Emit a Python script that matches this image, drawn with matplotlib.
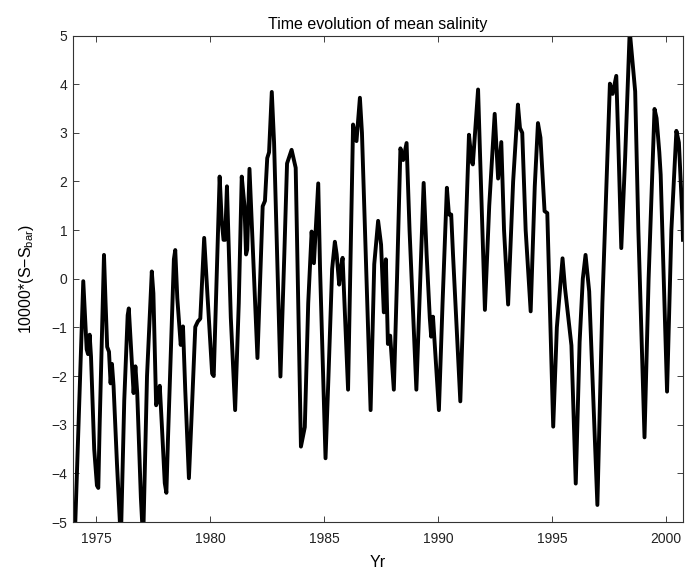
import matplotlib
matplotlib.use("Agg")
import matplotlib.pyplot as plt
import numpy as np

# time (yr) and salinity anomaly 10000*(S - S_bar)
years = [1974.00, 1974.42, 1974.50, 1974.57, 1974.63, 1974.70, 1974.76, 1974.90, 1975.02, 1975.08,
         1975.14, 1975.33, 1975.40, 1975.47, 1975.55, 1975.62, 1975.68, 1975.75, 1975.90, 1976.07,
         1976.22, 1976.37, 1976.42, 1976.48, 1976.57, 1976.63, 1976.71, 1976.79, 1976.95, 1977.05,
         1977.22, 1977.43, 1977.50, 1977.62, 1977.69, 1977.78, 1977.87, 1978.00, 1978.07, 1978.14,
         1978.40, 1978.46, 1978.55, 1978.70, 1978.80, 1978.90, 1979.06, 1979.18, 1979.34, 1979.45,
         1979.56, 1979.73, 1979.87, 1980.08, 1980.15, 1980.41, 1980.50, 1980.58, 1980.65, 1980.73,
         1980.90, 1981.09, 1981.25, 1981.38, 1981.50, 1981.57, 1981.62, 1981.72, 1981.85, 1982.07,
         1982.30, 1982.40, 1982.50, 1982.58, 1982.70, 1982.80, 1983.08, 1983.25, 1983.37, 1983.57,
         1983.75, 1983.98, 1984.15, 1984.30, 1984.45, 1984.55, 1984.74, 1984.82, 1985.06, 1985.18,
         1985.35, 1985.47, 1985.55, 1985.66, 1985.73, 1985.81, 1986.05, 1986.27, 1986.42, 1986.57,
         1986.66, 1987.04, 1987.20, 1987.37, 1987.50, 1987.62, 1987.71, 1987.80, 1987.90, 1988.06,
         1988.20, 1988.35, 1988.47, 1988.62, 1988.75, 1989.05, 1989.37, 1989.50, 1989.64, 1989.70,
         1989.78, 1990.04, 1990.20, 1990.39, 1990.48, 1990.58, 1990.66, 1990.98, 1991.15, 1991.36,
         1991.48, 1991.53, 1991.76, 1991.85, 1992.06, 1992.25, 1992.49, 1992.64, 1992.78, 1992.90,
         1993.08, 1993.30, 1993.51, 1993.60, 1993.70, 1993.85, 1994.07, 1994.25, 1994.39, 1994.50,
         1994.68, 1994.80, 1995.06, 1995.22, 1995.47, 1995.58, 1995.86, 1996.05, 1996.22, 1996.36,
         1996.48, 1996.64, 1997.00, 1997.22, 1997.55, 1997.67, 1997.83, 1997.92, 1998.05, 1998.22,
         1998.42, 1998.66, 1998.80, 1999.07, 1999.25, 1999.51, 1999.60, 1999.72, 1999.78, 2000.06,
         2000.25, 2000.47, 2000.58, 2000.69, 2000.73, 2000.76]
salinity = [-6.0, -0.05, -0.8, -1.45, -1.55, -1.15, -1.6, -3.5, -4.25, -4.3,
            -3.0, 0.49, -0.5, -1.4, -1.5, -2.15, -1.75, -2.2, -3.8, -5.4,
            -2.5, -0.75, -0.61, -1.1, -1.8, -2.35, -1.8, -2.35, -4.5, -5.4,
            -2.0, 0.15, -0.3, -2.6, -2.5, -2.2, -3.0, -4.2, -4.4, -3.3,
            0.4, 0.59, -0.4, -1.36, -0.98, -2.3, -4.1, -2.8, -0.99, -0.88,
            -0.82, 0.84, -0.3, -1.95, -2.0, 2.1, 1.2, 0.8, 0.8, 1.9,
            -0.8, -2.7, -0.5, 2.1, 1.5, 0.5, 0.6, 2.26, 0.8, -1.63,
            1.49, 1.6, 2.48, 2.6, 3.84, 2.8, -2.01, 0.5, 2.37, 2.65,
            2.28, -3.45, -3.05, -0.5, 0.97, 0.32, 1.96, 0.2, -3.69, -2.13,
            0.2, 0.76, 0.5, -0.12, 0.2, 0.43, -2.28, 3.17, 2.83, 3.72,
            3.0, -2.7, 0.3, 1.19, 0.7, -0.69, 0.4, -1.34, -1.17, -2.28,
            0.0, 2.68, 2.44, 2.79, 1.0, -2.28, 1.97, 0.5, -0.81, -1.19,
            -0.78, -2.7, -0.5, 1.87, 1.32, 1.32, 0.49, -2.52, 0.0, 2.96,
            2.4, 2.35, 3.89, 2.5, -0.64, 1.5, 3.39, 2.06, 2.81, 1.0,
            -0.53, 2.0, 3.58, 3.1, 3.0, 1.0, -0.67, 1.9, 3.2, 2.9,
            1.39, 1.35, -3.04, -1.0, 0.42, -0.2, -1.37, -4.21, -1.3, 0.0,
            0.49, -0.26, -4.65, -0.5, 4.01, 3.8, 4.17, 2.8, 0.63, 2.5,
            5.1, 3.85, 1.0, -3.26, 0.0, 3.49, 3.3, 2.6, 2.14, -2.32,
            1.0, 3.04, 2.8, 1.67, 1.3, 0.8]

xticks = [1975, 1980, 1985, 1990, 1995, 2000]
yticks = [-5, -4, -3, -2, -1, 0, 1, 2, 3, 4, 5]

plt.rcParams['font.family'] = ['Liberation Sans', 'DejaVu Sans']
plt.rcParams['mathtext.fontset'] = 'custom'
plt.rcParams['mathtext.rm'] = 'Liberation Sans'
plt.rcParams['mathtext.it'] = 'Liberation Sans:italic'

fig = plt.figure(figsize=(6.85, 5.69), dpi=100)
ax = fig.add_axes([0.1066, 0.0826, 0.8898, 0.855])

ax.plot(years, salinity, color='black', linewidth=2.8, solid_joinstyle='round')

ax.set_xlim(1973.97, 2000.74)
ax.set_ylim(-5, 5)
ax.set_xticks(xticks)
ax.set_yticks(yticks)
ax.tick_params(direction='in', top=True, right=True, length=4, width=0.6,
               labelsize=10, colors='#222222')
ax.tick_params(axis='x', pad=7)
ax.tick_params(axis='y', pad=4)
for s in ax.spines.values():
    s.set_linewidth(0.8)
    s.set_color('#333333')

ax.set_title('Time evolution of mean salinity', fontsize=11.5, pad=5)
ax.set_xlabel('Yr', fontsize=11.5, labelpad=6.5)
ax.set_ylabel('10000*(S\u2212S$_{\\mathrm{bar}}$)', fontsize=11.5, labelpad=11)

fig.savefig('out.png', dpi=100, facecolor='white')
